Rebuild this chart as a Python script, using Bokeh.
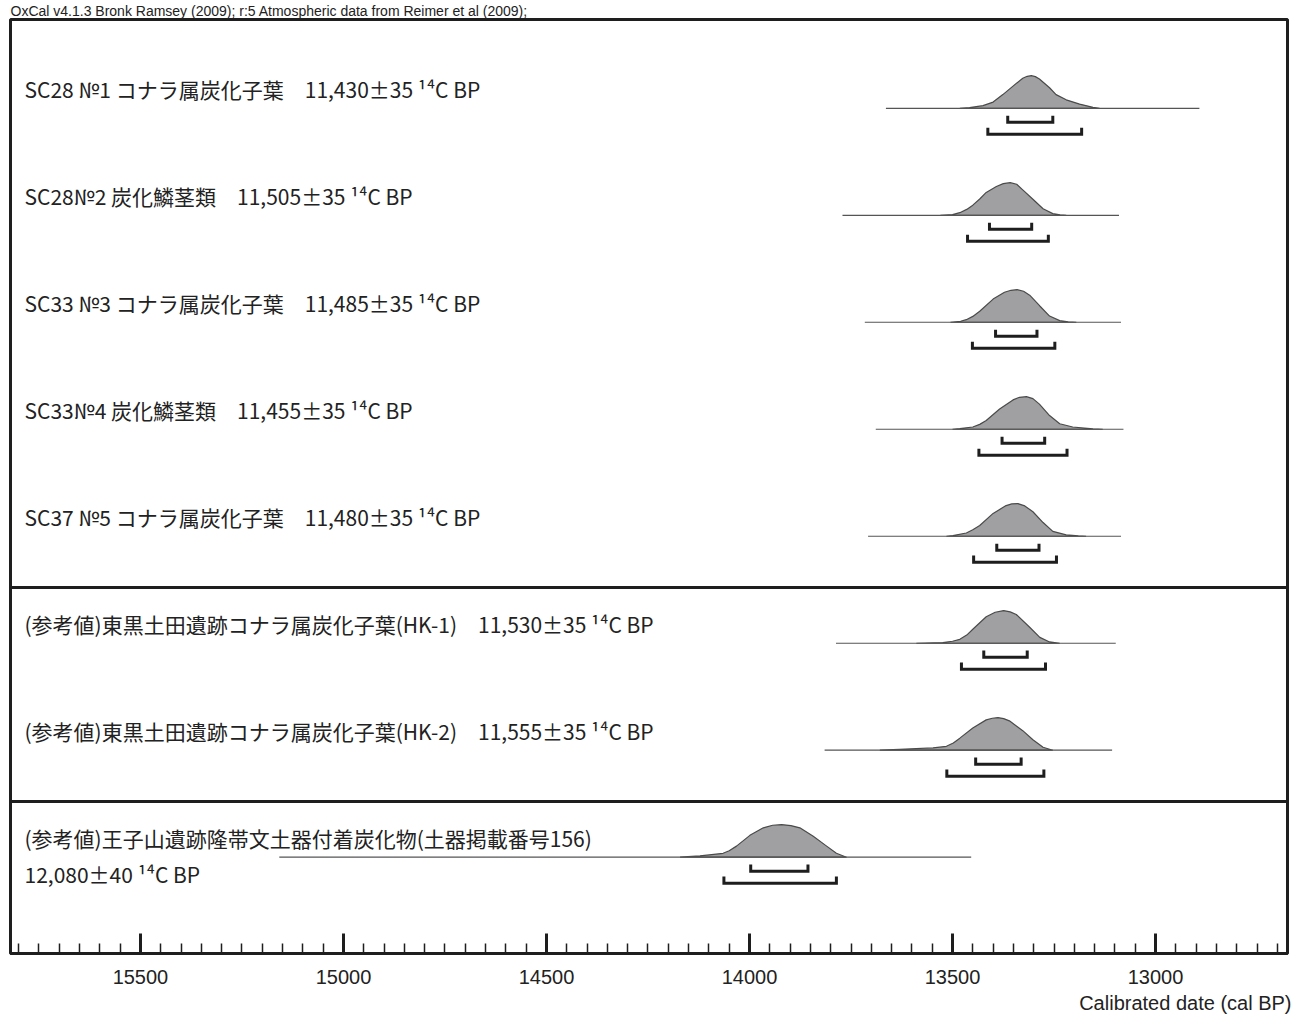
from bokeh.plotting import figure
from bokeh.models import Range1d, SingleIntervalTicker, Span, Title
from bokeh.core.properties import value
from bokeh.embed import file_html
from bokeh.resources import INLINE

# ---------------- data ----------------
title_text = "OxCal v4.1.3 Bronk Ramsey (2009); r:5 Atmospheric data from Reimer et al (2009);"
axis_title = "Calibrated date (cal BP)"

labels = [
    "SC28 №1 コナラ属炭化子葉　11,430±35 ¹⁴C BP",
    "SC28№2 炭化鱗茎類　11,505±35 ¹⁴C BP",
    "SC33 №3 コナラ属炭化子葉　11,485±35 ¹⁴C BP",
    "SC33№4 炭化鱗茎類　11,455±35 ¹⁴C BP",
    "SC37 №5 コナラ属炭化子葉　11,480±35 ¹⁴C BP",
    "(参考値)東黒土田遺跡コナラ属炭化子葉(HK-1)　11,530±35 ¹⁴C BP",
    "(参考値)東黒土田遺跡コナラ属炭化子葉(HK-2)　11,555±35 ¹⁴C BP",
    "(参考値)王子山遺跡隆帯文土器付着炭化物(土器掲載番号156)\n12,080±40 ¹⁴C BP",
]
groups = [0, 0, 0, 0, 0, 1, 1, 2]

# extent of each plotted distribution (cal BP)
line_from = [13664, 13771, 13716, 13689, 13708, 13787, 13815, 15158]
line_to = [12892, 13090, 13085, 13079, 13085, 13098, 13107, 13454]

# 68.2% and 95.4% ranges (cal BP)
sig1_from = [13364, 13409, 13394, 13378, 13391, 13423, 13443, 13997]
sig1_to = [13253, 13305, 13292, 13273, 13287, 13316, 13331, 13856]
sig2_from = [13413, 13463, 13451, 13435, 13448, 13478, 13514, 14063]
sig2_to = [13182, 13264, 13248, 13218, 13244, 13271, 13275, 13786]

# relative probability curves (cal BP, relative probability)
curve1_bp = [13482, 13458, 13425, 13400, 13376, 13351, 13327, 13316, 13306, 13296, 13286, 13261, 13245, 13220, 13187, 13154, 13138]
curve1_p = [0, 0.02, 0.08, 0.19, 0.42, 0.68, 0.92, 0.98, 1.0, 0.97, 0.9, 0.63, 0.42, 0.26, 0.13, 0.03, 0]
curve2_bp = [13530, 13500, 13482, 13465, 13450, 13433, 13417, 13392, 13375, 13358, 13342, 13327, 13302, 13277, 13253, 13235, 13220]
curve2_p = [0, 0.02, 0.08, 0.18, 0.31, 0.50, 0.70, 0.88, 0.97, 1.0, 0.95, 0.78, 0.49, 0.20, 0.05, 0.01, 0]
curve3_bp = [13505, 13480, 13466, 13450, 13433, 13400, 13372, 13356, 13341, 13325, 13310, 13285, 13261, 13236, 13215, 13195]
curve3_p = [0, 0.03, 0.08, 0.18, 0.34, 0.71, 0.92, 0.98, 1.0, 0.95, 0.83, 0.50, 0.19, 0.05, 0.01, 0]
curve4_bp = [13500, 13482, 13450, 13433, 13417, 13384, 13351, 13335, 13318, 13302, 13286, 13261, 13236, 13204, 13154, 13130]
curve4_p = [0, 0.02, 0.07, 0.15, 0.27, 0.62, 0.90, 0.98, 1.0, 0.94, 0.77, 0.42, 0.17, 0.07, 0.01, 0]
curve5_bp = [13515, 13499, 13466, 13450, 13433, 13400, 13368, 13354, 13339, 13322, 13302, 13277, 13253, 13220, 13190, 13171]
curve5_p = [0, 0.02, 0.10, 0.20, 0.33, 0.70, 0.94, 0.99, 1.0, 0.93, 0.75, 0.42, 0.15, 0.04, 0.01, 0]
curve6_bp = [13589, 13524, 13500, 13482, 13465, 13450, 13417, 13395, 13374, 13358, 13343, 13310, 13285, 13261, 13236]
curve6_p = [0, 0.02, 0.06, 0.12, 0.25, 0.43, 0.81, 0.95, 1.0, 0.96, 0.88, 0.49, 0.18, 0.04, 0]
curve7_bp = [13679, 13630, 13548, 13515, 13498, 13482, 13450, 13417, 13402, 13388, 13374, 13360, 13327, 13302, 13277, 13253]
curve7_p = [0, 0.03, 0.07, 0.12, 0.22, 0.37, 0.68, 0.93, 0.98, 1.0, 0.97, 0.90, 0.60, 0.32, 0.09, 0]
curve8_bp = [14171, 14122, 14065, 14050, 14032, 13999, 13966, 13943, 13921, 13898, 13876, 13843, 13810, 13786, 13761]
curve8_p = [0, 0.04, 0.12, 0.20, 0.34, 0.67, 0.90, 0.98, 1.0, 0.97, 0.90, 0.64, 0.34, 0.12, 0]

curves = [
    (curve1_bp, curve1_p), (curve2_bp, curve2_p), (curve3_bp, curve3_p), (curve4_bp, curve4_p),
    (curve5_bp, curve5_p), (curve6_bp, curve6_p), (curve7_bp, curve7_p), (curve8_bp, curve8_p),
]

# ---------------- style ----------------
X_START, X_END = 15820, 12675
PEAK = 0.305          # curve height in row units
S1_OFF, S2_OFF, TICK_H = 0.131, 0.243, 0.062
INK = "#1e1e1e"

p = figure(
    frame_width=1277, frame_height=934,
    x_range=Range1d(X_START, X_END), y_range=Range1d(7.9, -0.83),
    y_axis_type=None, toolbar_location=None, output_backend="svg",
    min_border_left=10, min_border_right=4, min_border_top=0, min_border_bottom=0,
    background_fill_color="white", border_fill_color="white",
)
p.outline_line_color = INK
p.outline_line_width = 3
p.xgrid.visible = False
p.ygrid.visible = False

p.title.text = title_text
p.title.text_font = "Liberation Sans"
p.title.text_font_size = "14px"
p.title.text_font_style = "normal"
p.title.text_color = "#222222"
p.title.standoff = 1
p.title.align = "left"

ax = p.xaxis[0]
ax.ticker = SingleIntervalTicker(interval=500, num_minor_ticks=10)
ax.axis_line_width = 3
ax.axis_line_color = INK
ax.major_tick_in = 20
ax.major_tick_out = 0
ax.major_tick_line_width = 3
ax.major_tick_line_color = INK
ax.minor_tick_in = 10
ax.minor_tick_out = 0
ax.minor_tick_line_width = 1.5
ax.minor_tick_line_color = INK
ax.major_label_text_font = "Liberation Sans"
ax.major_label_text_font_size = "20px"
ax.major_label_text_color = "#222222"
ax.major_label_standoff = 16

p.add_layout(Title(text=axis_title, align="right", text_font="Liberation Sans",
                   text_font_size="20px", text_font_style="normal",
                   text_color="#222222", standoff=7, offset=-4), "below")

rows = list(range(len(labels)))

# group dividers
for i in range(1, len(groups)):
    if groups[i] != groups[i - 1]:
        p.add_layout(Span(location=i - 0.52, dimension="width", line_color=INK, line_width=3))

# distributions
for i, (bp, pr) in enumerate(curves):
    xs = [bp[0]] + list(bp) + [bp[-1]]
    ys = [i] + [i - PEAK * v for v in pr] + [i]
    p.patch(xs, ys, fill_color="#a0a0a2", line_color="#4a4a4a", line_width=1.2)

p.segment(x0=line_from, y0=rows, x1=line_to, y1=rows, line_color="#555555", line_width=1.2)

# range brackets
for frm, to, off in ((sig1_from, sig1_to, S1_OFF), (sig2_from, sig2_to, S2_OFF)):
    xs = [[a, a, b, b] for a, b in zip(frm, to)]
    ys = [[r + off - TICK_H, r + off, r + off, r + off - TICK_H] for r in rows]
    p.multi_line(xs, ys, line_color=INK, line_width=3, line_join="miter")

# labels
first_lines = [l.split("\n")[0] for l in labels]
p.text(x=[X_START] * len(rows), y=[r - 0.18 for r in rows], text=first_lines,
       x_offset=14, text_font=value("Noto Sans CJK JP"), text_font_size="21px",
       text_baseline="middle", text_align="left", text_color="#222222")
second = [(r, l.split("\n")[1]) for r, l in zip(rows, labels) if "\n" in l]
p.text(x=[X_START] * len(second), y=[r + 0.16 for r, _ in second], text=[t for _, t in second],
       x_offset=14, text_font=value("Noto Sans CJK JP"), text_font_size="21px",
       text_baseline="middle", text_align="left", text_color="#222222")

open("out.html", "w").write(file_html(p, INLINE))
